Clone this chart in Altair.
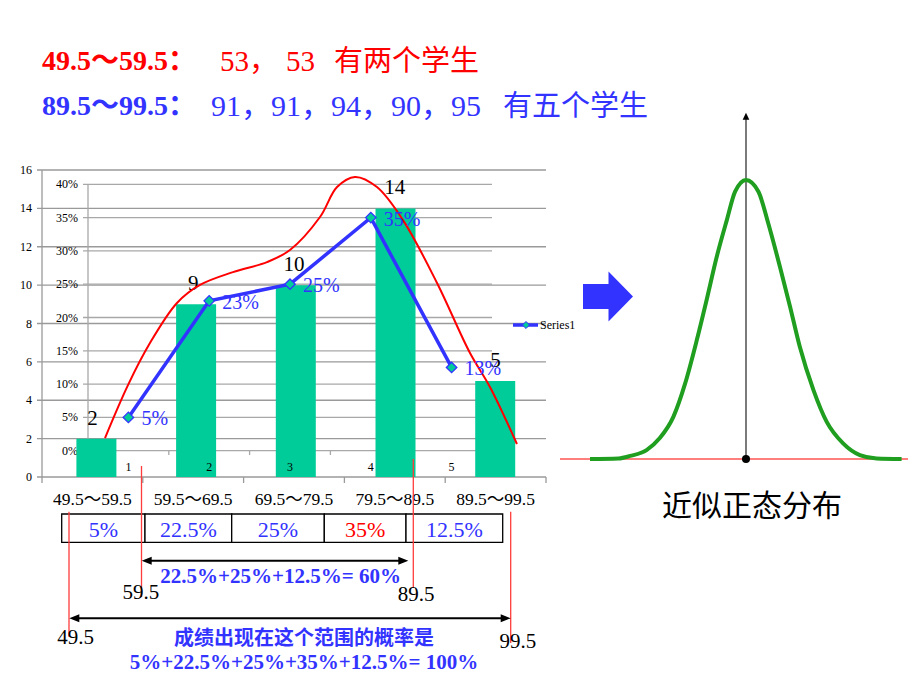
import altair as alt
import pandas as pd

W, H = 920, 690
SERIF = "Liberation Serif, Noto Sans CJK SC"
CJK = "Noto Sans CJK SC"
BLUE = "#3333ff"
RED = "#ff0000"
TEAL = "#00cc99"
GREEN = "#1f9e1f"

# ---------------- data ----------------
categories = ["49.5～59.5", "59.5～69.5", "69.5～79.5", "79.5～89.5", "89.5～99.5"]
group_ids = [1, 2, 3, 4, 5]
counts = [2, 9, 10, 14, 5]
shares = [0.05, 0.225, 0.25, 0.35, 0.125]
share_labels = ["5%", "23%", "25%", "35%", "13%"]
count_ticks = [0, 2, 4, 6, 8, 10, 12, 14, 16]
share_ticks = [0, 0.05, 0.10, 0.15, 0.20, 0.25, 0.30, 0.35, 0.40]
share_tick_labels = ["0%", "5%", "10%", "15%", "20%", "25%", "30%", "35%", "40%"]
table_texts = ["5%", "22.5%", "25%", "35%", "12.5%"]

# hand-drawn red curve, read in (group, count) units
sketch_x = [1.125, 1.353, 1.571, 1.839, 2.067, 2.395, 2.732, 2.960,
            3.258, 3.427, 3.605, 3.823, 4.081, 4.419, 4.746, 4.944, 5.212]
sketch_y = [2.03, 4.79, 6.98, 9.07, 10.01, 10.68, 11.20, 11.83,
            13.55, 15.11, 15.64, 15.11, 13.39, 10.11, 6.46, 4.69, 1.72]

# bell curve (x in spread units, height relative to peak)
bell_x = [-4.0, -3.27, -2.97, -2.55, -2.21, -1.86, -1.56, -1.26, -1.01, -0.75, -0.49,
          -0.28, 0.0, 0.32, 0.57, 0.87, 1.13, 1.38, 1.73, 2.07, 2.49, 2.92, 3.35, 3.99]
bell_y = [0.0, 0.002, 0.011, 0.032, 0.075, 0.152, 0.271, 0.427, 0.570, 0.725, 0.857,
          0.958, 1.0, 0.958, 0.845, 0.689, 0.546, 0.402, 0.247, 0.133, 0.056, 0.014, 0.002, 0.0]


# ---------------- scale helpers ----------------
def xsc(v0, p0, v1, p1):
    k = (p1 - p0) / (v1 - v0)
    d0 = v0 - p0 / k
    return alt.Scale(domain=[d0, d0 + W / k], zero=False, nice=False)


def ysc(v0, p0, v1, p1):
    k = (p0 - p1) / (v1 - v0)
    d0 = v0 - (H - p0) / k
    return alt.Scale(domain=[d0, d0 + H / k], zero=False, nice=False)


PX = xsc(0, 0, 1, 1)
PY = ysc(0, 0, 1, 1)
X1 = xsc(0.5, 42, 5.5, 546)          # primary (count) chart
Y1 = ysc(0, 477, 16, 170)
X2 = xsc(0.5, 88, 5.5, 492)          # secondary (share) chart
Y2 = ysc(0, 450.7, 0.40, 184.3)
XN = xsc(0, 746, 1, 785)             # bell curve
YN = ysc(0, 459, 1, 180)

one = pd.DataFrame({"t": [""]})


def label(text, x, y, size, color="black", weight="normal", align="left", font=SERIF):
    return alt.Chart(pd.DataFrame({"t": [text]})).mark_text(
        align=align, baseline="middle", fontSize=size, fontWeight=weight,
        color=color, font=font
    ).encode(x=alt.value(x), y=alt.value(y), text="t:N")


main = pd.DataFrame({"g": group_ids, "cat": categories, "n": counts,
                     "p": shares, "pl": share_labels})
layers = []

# ---------------- titles ----------------
layers += [
    label("49.5～59.5：", 42, 62, 28, RED, "bold"),
    label("53，", 220, 62, 29, RED),
    label("53", 286, 62, 29, RED),
    label("有两个学生", 334, 62, 29, RED),
    label("89.5～99.5：", 42, 107, 28, BLUE, "bold"),
    label("91，91，94，90，95", 211, 107, 30, BLUE),
    label("有五个学生", 503, 107, 29, BLUE),
]

# ---------------- primary chart frame ----------------
cnt = pd.DataFrame({"v": count_ticks})
layers.append(alt.Chart(cnt).mark_rule(color="#9a9a9a", strokeWidth=1.3).encode(
    x=alt.value(37), x2=alt.value(546), y=alt.Y("v:Q", scale=Y1, axis=None)))
layers.append(alt.Chart(cnt).mark_text(align="right", baseline="middle", fontSize=12,
                                       font=SERIF, color="black").encode(
    x=alt.value(32), y=alt.Y("v:Q", scale=Y1, axis=None), text="v:Q"))
layers.append(alt.Chart(one).mark_rule(color="#9a9a9a", strokeWidth=1.3).encode(
    x=alt.value(42), y=alt.Y(datum=0, scale=Y1, axis=None), y2=alt.datum(16)))
bounds = pd.DataFrame({"b": [0.5, 1.5, 2.5, 3.5, 4.5, 5.5]})
layers.append(alt.Chart(bounds).mark_rule(color="#9a9a9a", strokeWidth=1.3).encode(
    x=alt.X("b:Q", scale=X1, axis=None), y=alt.Y(datum=0, scale=Y1, axis=None),
    y2=alt.value(483)))

# ---------------- secondary chart frame ----------------
shr = pd.DataFrame({"v": share_ticks, "l": share_tick_labels})
layers.append(alt.Chart(shr).mark_rule(color="#a8a8a8", strokeWidth=1.3).encode(
    x=alt.value(83), x2=alt.value(492), y=alt.Y("v:Q", scale=Y2, axis=None)))
layers.append(alt.Chart(shr).mark_text(align="right", baseline="middle", fontSize=12,
                                       font=SERIF, color="black").encode(
    x=alt.value(78), y=alt.Y("v:Q", scale=Y2, axis=None), text="l:N"))
layers.append(alt.Chart(one).mark_rule(color="#a8a8a8", strokeWidth=1.3).encode(
    x=alt.value(88), y=alt.Y(datum=0, scale=Y2, axis=None), y2=alt.datum(0.40)))
layers.append(alt.Chart(bounds).mark_rule(color="#a8a8a8", strokeWidth=1.3).encode(
    x=alt.X("b:Q", scale=X2, axis=None), y=alt.Y(datum=0, scale=Y2, axis=None),
    y2=alt.value(455)))

# ---------------- bars ----------------
layers.append(alt.Chart(main).mark_bar(size=40, color=TEAL).encode(
    x=alt.X("g:Q", scale=X1, axis=None), y=alt.Y("n:Q", scale=Y1, axis=None),
    y2=alt.datum(0)))
layers.append(alt.Chart(main).mark_text(dy=-20, baseline="middle", fontSize=21,
                                        font=SERIF, color="black").encode(
    x=alt.X("g:Q", scale=X1, axis=None), y=alt.Y("n:Q", scale=Y1, axis=None),
    text="n:Q"))
layers.append(alt.Chart(main).mark_text(baseline="middle", fontSize=17.5, font=SERIF,
                                        color="black").encode(
    x=alt.X("g:Q", scale=X1, axis=None), y=alt.value(500), text="cat:N"))
# secondary category labels drawn over the bars
layers.append(alt.Chart(main).mark_text(baseline="middle", fontSize=12, font=SERIF,
                                        color="black").encode(
    x=alt.X("g:Q", scale=X2, axis=None), y=alt.value(467), text="g:N"))

# ---------------- red sketch curve ----------------
sk = pd.DataFrame({"sx": sketch_x, "sy": sketch_y})
layers.append(alt.Chart(sk).mark_line(color=RED, strokeWidth=2,
                                      interpolate="catmull-rom").encode(
    x=alt.X("sx:Q", scale=X1, axis=None), y=alt.Y("sy:Q", scale=Y1, axis=None)))

# ---------------- share line ----------------
layers.append(alt.Chart(main).mark_line(color=BLUE, strokeWidth=3.5).encode(
    x=alt.X("g:Q", scale=X2, axis=None), y=alt.Y("p:Q", scale=Y2, axis=None)))
layers.append(alt.Chart(main).mark_point(shape="diamond", filled=True, fill=TEAL,
                                         stroke=BLUE, strokeWidth=1.3, size=110,
                                         opacity=1).encode(
    x=alt.X("g:Q", scale=X2, axis=None), y=alt.Y("p:Q", scale=Y2, axis=None)))
layers.append(alt.Chart(main).mark_text(align="left", baseline="middle", dx=13, dy=2,
                                        fontSize=20, font=SERIF, color=BLUE).encode(
    x=alt.X("g:Q", scale=X2, axis=None), y=alt.Y("p:Q", scale=Y2, axis=None),
    text="pl:N"))

# legend
layers.append(alt.Chart(one).mark_rule(color=BLUE, strokeWidth=3.5).encode(
    x=alt.value(513), x2=alt.value(538), y=alt.value(325)))
layers.append(alt.Chart(one).mark_point(shape="diamond", filled=True, fill=TEAL,
                                        stroke=BLUE, strokeWidth=1, size=50,
                                        opacity=1).encode(
    x=alt.value(526), y=alt.value(325)))
layers.append(label("Series1", 540, 325, 12))

# ---------------- table ----------------
edges = [61.7, 145, 231.7, 324.3, 406, 502.7]
tbl = pd.DataFrame({"x0": edges[:-1], "x1": edges[1:], "t": table_texts,
                    "xc": [(a + b) / 2 for a, b in zip(edges[:-1], edges[1:])]})
layers.append(alt.Chart(tbl).mark_rect(fill="white", stroke="black", strokeWidth=1.3).encode(
    x=alt.X("x0:Q", scale=PX, axis=None), x2="x1:Q",
    y=alt.value(514), y2=alt.value(542.3)))
layers.append(alt.Chart(tbl).mark_text(baseline="middle", fontSize=22, font=SERIF).encode(
    x=alt.X("xc:Q", scale=PX, axis=None), y=alt.value(530), text="t:N",
    color=alt.condition(alt.datum.t == "35%", alt.value(RED), alt.value(BLUE))))

# red boundary lines
marks = pd.DataFrame({"x": [141.5, 413.3, 69, 510.7],
                      "y0": [466, 459, 511.7, 511.7],
                      "y1": [597, 588, 636.7, 643]})
layers.append(alt.Chart(marks).mark_rule(color="#ff3b3b", strokeWidth=1.3).encode(
    x=alt.X("x:Q", scale=PX, axis=None), y=alt.Y("y0:Q", scale=PY, axis=None),
    y2="y1:Q"))

# double arrows
HEAD_R = "M 1 0 L -1 -0.8 L -1 0.8 Z"
HEAD_L = "M -1 0 L 1 -0.8 L 1 0.8 Z"
for x0, x1, y in [(141.7, 408.3, 560.7), (69.3, 510.7, 618.3)]:
    layers.append(alt.Chart(one).mark_rule(color="black", strokeWidth=2).encode(
        x=alt.value(x0 + 4), x2=alt.value(x1 - 4), y=alt.value(y)))
    layers.append(alt.Chart(one).mark_point(shape=HEAD_L, filled=True, color="black",
                                            size=100, opacity=1).encode(
        x=alt.value(x0 + 5), y=alt.value(y)))
    layers.append(alt.Chart(one).mark_point(shape=HEAD_R, filled=True, color="black",
                                            size=100, opacity=1).encode(
        x=alt.value(x1 - 5), y=alt.value(y)))

layers += [
    label("22.5%+25%+12.5%= 60%", 280.7, 577, 21, BLUE, "bold", "center"),
    label("59.5", 140.8, 593, 21, "black", "normal", "center"),
    label("89.5", 416, 595, 21, "black", "normal", "center"),
    label("49.5", 75.5, 638, 21, "black", "normal", "center"),
    label("99.5", 517.8, 642, 21, "black", "normal", "center"),
    label("成绩出现在这个范围的概率是", 304, 639, 20, BLUE, "bold", "center", CJK),
    label("5%+22.5%+25%+35%+12.5%= 100%", 304, 663, 21, BLUE, "bold", "center"),
]

# ---------------- blue arrow ----------------
ARROW = "M -1 -0.5 L 0.02 -0.5 L 0.02 -1 L 1 0 L 0.02 1 L 0.02 0.5 L -1 0.5 Z"
layers.append(alt.Chart(one).mark_point(shape=ARROW, filled=True, color=BLUE,
                                        size=2500, opacity=1).encode(
    x=alt.value(608), y=alt.value(296.5)))

# ---------------- bell curve ----------------
bell = pd.DataFrame({"z": bell_x, "h": bell_y})
layers.append(alt.Chart(one).mark_rule(color=RED, strokeWidth=1.2).encode(
    x=alt.value(560), x2=alt.value(908), y=alt.Y(datum=0, scale=YN, axis=None)))
layers.append(alt.Chart(one).mark_rule(color="#333333", strokeWidth=1.3).encode(
    x=alt.X(datum=0, scale=XN, axis=None), y=alt.Y(datum=0, scale=YN, axis=None),
    y2=alt.value(117)))
layers.append(alt.Chart(bell).mark_line(color=GREEN, strokeWidth=4,
                                        interpolate="monotone").encode(
    x=alt.X("z:Q", scale=XN, axis=None), y=alt.Y("h:Q", scale=YN, axis=None)))
layers.append(alt.Chart(one).mark_point(shape="M 0 -1 L -0.95 1 L 0.95 1 Z", filled=True,
                                        color="black", size=49, opacity=1).encode(
    x=alt.X(datum=0, scale=XN, axis=None), y=alt.value(116.2)))
layers.append(alt.Chart(one).mark_point(shape="circle", filled=True, color="black",
                                        size=64, opacity=1).encode(
    x=alt.X(datum=0, scale=XN, axis=None), y=alt.Y(datum=0, scale=YN, axis=None)))
layers.append(label("近似正态分布", 752, 507, 30, "black", "normal", "center", CJK))

chart = alt.layer(*layers).resolve_scale(
    x="independent", y="independent", color="independent"
).properties(
    width=W, height=H, padding=0,
    autosize=alt.AutoSizeParams(type="none"), background="white"
).configure_view(stroke=None)

chart.save("out.html", embed_options={"renderer": "svg", "actions": False})
